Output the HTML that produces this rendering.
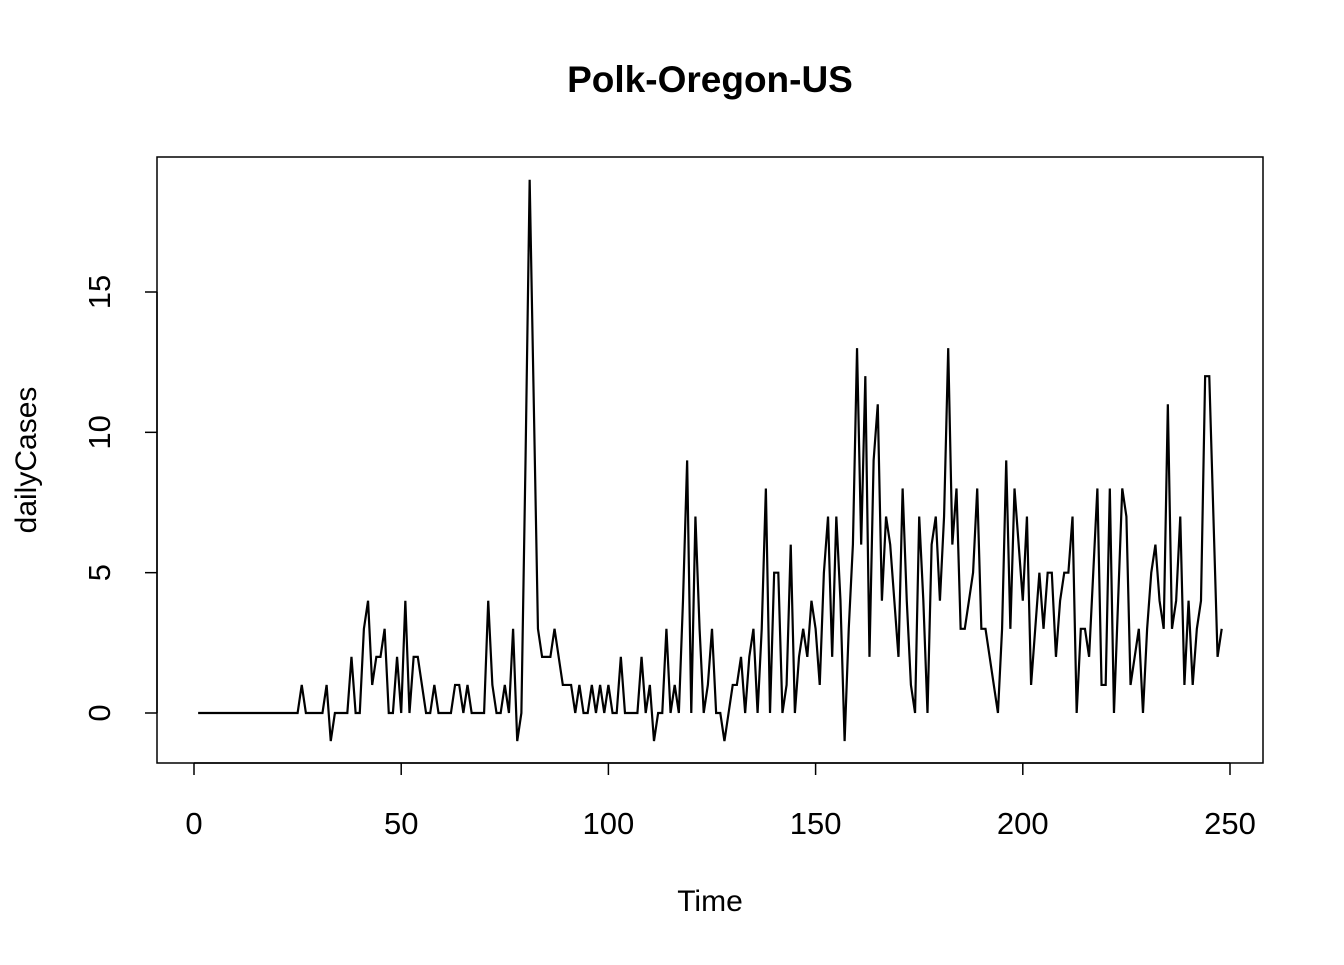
<!DOCTYPE html>
<html><head><meta charset="utf-8"><style>
html,body{margin:0;padding:0;background:#fff;}
svg text{font-family:"Liberation Sans",Arial,sans-serif;fill:#000;}
</style></head><body>
<svg id="chart" width="1344" height="960" xmlns="http://www.w3.org/2000/svg">
<rect width="1344" height="960" fill="#fff"/>
<text x="710" y="92" font-size="37" font-weight="bold" text-anchor="middle">Polk-Oregon-US</text>
<rect x="157" y="157" width="1106" height="606" fill="none" stroke="#000" stroke-width="1.5"/>
<text x="710" y="911" font-size="30" text-anchor="middle">Time</text>
<text transform="translate(36,460) rotate(-90)" font-size="30" text-anchor="middle">dailyCases</text>
<g id="xaxis"></g>
<g id="yaxis"></g>
<polyline id="series" fill="none" stroke="#000" stroke-width="2.2"/>
</svg>
<script>
const xTicks = [0, 50, 100, 150, 200, 250];
const yTicks = [0, 5, 10, 15];
const dailyCases = [
0,0,0,0,0,0,0,0,0,0, 0,0,0,0,0,0,0,0,0,0, 0,0,0,0,0,1,0,0,0,0,
0,1,-1,0,0,0,0,2,0,0, 3,4,1,2,2,3,0,0,2,0, 4,0,2,2,1,0,0,1,0,0,
0,0,1,1,0,1,0,0,0,0, 4,1,0,0,1,0,3,-1,0,9, 19,11,3,2,2,2,3,2,1,1,
1,0,1,0,0,1,0,1,0,1, 0,0,2,0,0,0,0,2,0,1, -1,0,0,3,0,1,0,4,9,0,
7,3,0,1,3,0,0,-1,0,1, 1,2,0,2,3,0,3,8,0,5, 5,0,1,6,0,2,3,2,4,3,
1,5,7,2,7,4,-1,3,6,13, 6,12,2,9,11,4,7,6,4,2, 8,4,1,0,7,4,0,6,7,4,
7,13,6,8,3,3,4,5,8,3, 3,2,1,0,3,9,3,8,6,4, 7,1,3,5,3,5,5,2,4,5,
5,7,0,3,3,2,5,8,1,1, 8,0,4,8,7,1,2,3,0,3, 5,6,4,3,11,3,4,7,1,4,
1,3,4,12,12,7,2,3
];
const ns = "http://www.w3.org/2000/svg";
const X = t => 194 + (t / 250) * (1230 - 194);
const Y = v => 713 - v * (713 - 292) / 15;
const xa = document.getElementById('xaxis');
const ya = document.getElementById('yaxis');
function mk(tag, attrs, parent){const e=document.createElementNS(ns,tag);for(const k in attrs)e.setAttribute(k,attrs[k]);parent.appendChild(e);return e;}
let l = mk('line',{x1:X(xTicks[0]),x2:X(xTicks[xTicks.length-1]),y1:763,y2:763,stroke:'#000','stroke-width':1.5},xa);


xTicks.forEach(t=>{
  const tk = mk('line',{x1:X(t),x2:X(t),y1:763,y2:775,stroke:'#000','stroke-width':1.5},xa);
  
  
  const tx = mk('text',{x:X(t),y:834,'font-size':31,'text-anchor':'middle'},xa);
  tx.textContent = t;
  
  
});
l = mk('line',{x1:157,x2:157,y1:Y(yTicks[0]),y2:Y(yTicks[yTicks.length-1]),stroke:'#000','stroke-width':1.5},ya);


yTicks.forEach(v=>{
  const tk = mk('line',{x1:145,x2:157,y1:Y(v),y2:Y(v),stroke:'#000','stroke-width':1.5},ya);
  
  
  const tx = mk('text',{transform:`translate(110,${Y(v)}) rotate(-90)`,'font-size':31,'text-anchor':'middle'},ya);
  tx.textContent = v;
  
  
});
document.getElementById('series').setAttribute('points', dailyCases.map((v,i)=>X(i+1).toFixed(2)+','+Y(v).toFixed(2)).join(' '));
</script>
</body></html>
